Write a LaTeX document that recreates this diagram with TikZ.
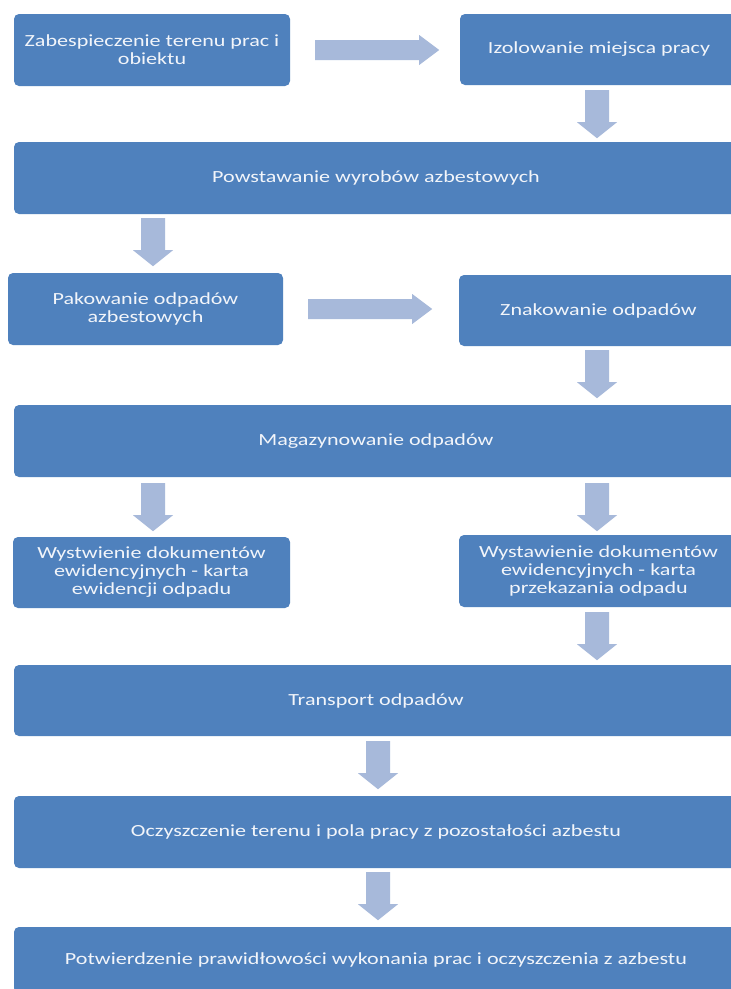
\documentclass[tikz,border=0pt]{standalone}
\usepackage{fontspec}
\setmainfont{Carlito}[FakeStretch=1.3]
\usetikzlibrary{calc}
\definecolor{boxblue}{HTML}{4F81BD}
\definecolor{arrblue}{HTML}{A7B9DA}
\definecolor{boxtext}{HTML}{F2F5FA}
\tikzset{
  box/.style={fill=boxblue, rounded corners=5pt, text=boxtext, align=center,
    font=\fontsize{17}{18}\selectfont, inner sep=0pt},
  pics/darrow/.style={code={\fill[arrblue] (-12,0) -- (12,0) -- (12,32) -- (20,32) -- (0,48) -- (-20,32) -- (-12,32) -- cycle;}},
  pics/rarrow/.style={code={\fill[arrblue] (0,-10) -- (104,-10) -- (104,-15) -- (124,0) -- (104,15) -- (104,10) -- (0,10) -- cycle;}},
}
\begin{document}
\begin{tikzpicture}[x=1pt, y=-1pt]
\clip (0,0) rectangle (731,989);
\fill[white] (0,0) rectangle (731,989);

\node[box, minimum width=276, minimum height=72] (b1) at (152,50) {Zabespieczenie terenu prac i\\obiektu};
\node[box, minimum width=278, minimum height=71] (b2) at (599,49.5) {Izolowanie miejsca pracy};
\node[box, minimum width=724, minimum height=72] (b3) at (376,178) {Powstawanie wyrobów azbestowych};
\node[box, minimum width=275, minimum height=72] (b4) at (145.5,309) {Pakowanie odpadów\\azbestowych};
\node[box, minimum width=279, minimum height=71] (b5) at (598.5,310.5) {Znakowanie odpadów};
\node[box, minimum width=724, minimum height=72] (b6) at (376,441) {Magazynowanie odpadów};
\node[box, minimum width=277, minimum height=71] (b7) at (151.5,572.5) {Wystwienie dokumentów\\ewidencyjnych - karta\\ewidencji odpadu};
\node[box, minimum width=279, minimum height=72] (b8) at (598.5,571) {Wystawienie dokumentów\\ewidencyjnych - karta\\przekazania odpadu};
\node[box, minimum width=724, minimum height=71] (b9) at (376,700.5) {Transport odpadów};
\node[box, minimum width=724, minimum height=72] (b10) at (376,832) {Oczyszczenie terenu i pola pracy z pozostałości azbestu};
\node[box, minimum width=724, minimum height=66] (b11) at (376,960) {Potwierdzenie prawidłowości wykonania prac i oczyszczenia z azbestu};

\pic at ($(b1.east)+(25,0)$) {rarrow};
\pic at ($(b2.south)+(-2,5)$) {darrow};
\pic at ($(b3.south -| b1.south)+(1,4)$) {darrow};
\pic at ($(b4.east)+(25,0)$) {rarrow};
\pic at ($(b5.south)+(-1.5,4)$) {darrow};
\pic at ($(b6.south -| b7.north)+(1.5,6)$) {darrow};
\pic at ($(b6.south -| b8.north)+(-1.5,6)$) {darrow};
\pic at ($(b8.south)+(-1.5,5)$) {darrow};
\pic at ($(b9.south)+(2,5)$) {darrow};
\pic at ($(b10.south)+(2,4)$) {darrow};
\end{tikzpicture}
\end{document}
